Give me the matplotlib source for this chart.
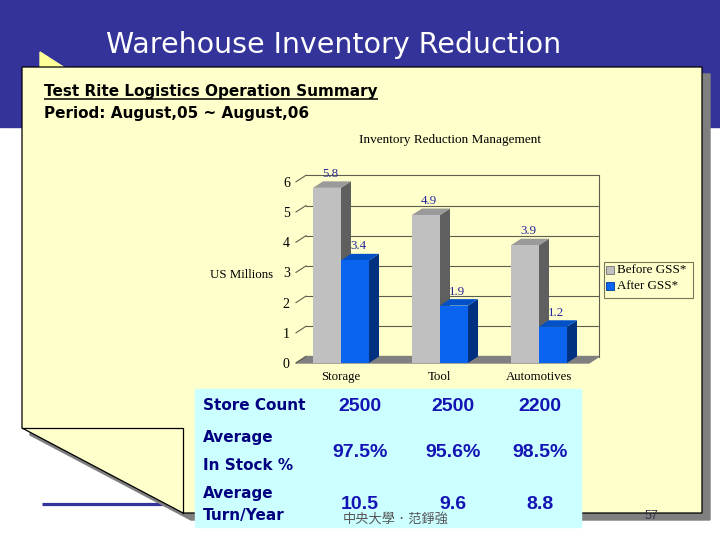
import matplotlib
matplotlib.use('Agg')
import matplotlib.pyplot as plt
from matplotlib.patches import Polygon, Rectangle

# ---------------- data ----------------
categories = ['Storage', 'Tool', 'Automotives']
before_gss = [5.8, 4.9, 3.9]
after_gss = [3.4, 1.9, 1.2]
y_ticks = [0, 1, 2, 3, 4, 5, 6]
series_names = ['Before GSS*', 'After GSS*']
row_labels = [['Store Count'], ['Average', 'In Stock %'], ['Average', 'Turn/Year']]
store_count = ['2500', '2500', '2200']
in_stock = ['97.5%', '95.6%', '98.5%']
turn_year = ['10.5', '9.6', '8.8']

SANS = 'DejaVu Sans'
ARIAL = 'Liberation Sans'
SERIF = 'Liberation Serif'
CJK = ['Noto Sans CJK TC', 'DejaVu Sans']
BLUE_BAND = '#333399'
PANEL = '#FFFFCC'

fig = plt.figure(figsize=(7.2, 5.4), dpi=100)
bg = fig.add_axes([0, 0, 1, 1])
bg.set_xlim(0, 720)
bg.set_ylim(540, 0)
bg.axis('off')

# slide background
bg.add_patch(Rectangle((0, 0), 720, 127, color=BLUE_BAND, zorder=0))
bg.text(106, 53, 'Warehouse Inventory Reduction', color='white', family=SANS,
        fontsize=20.5, va='baseline', ha='left', zorder=1)
bg.add_patch(Polygon([(40, 52), (40, 88), (68, 70)], closed=True, color='#FFFF99', zorder=1))
bg.plot([42, 190], [504, 504], color=BLUE_BAND, lw=2.3, solid_capstyle='butt', zorder=1)

# note panel with folded corner
panel = [(22, 67), (702, 67), (702, 513), (183, 513), (22, 428)]
shadow = [(x + 8, y + 7) for x, y in panel]
bg.add_patch(Polygon(shadow, closed=True, color='#7F7F7F', zorder=2))
bg.add_patch(Polygon(panel, closed=True, facecolor=PANEL, edgecolor='black', lw=0.9, zorder=3))
bg.plot([22, 183, 183], [428, 428, 513], color='black', lw=0.9, zorder=4)

t1 = bg.text(44, 96, 'Test Rite Logistics Operation Summary', family=SANS, weight='bold',
             fontsize=11, va='baseline', ha='left', zorder=5)
bg.text(44, 118, 'Period: August,05 ~ August,06', family=SANS, weight='bold',
        fontsize=11, va='baseline', ha='left', zorder=5)

# chart title / axis title
bg.text(450, 140, 'Inventory Reduction Management', family=SERIF, fontsize=9.5,
        ha='center', va='center', zorder=5)
bg.text(242, 275, 'US Millions', family=SERIF, fontsize=9.3, ha='center', va='center', zorder=5)

# legend
bg.add_patch(Rectangle((604, 262), 89, 36, facecolor='none', edgecolor='#77775A', lw=0.8, zorder=5))
leg_cols = [('#C0C0C0', '#707070'), ('#0A64F0', '#003399')]
for k, (name, (fc, ec)) in enumerate(zip(series_names, leg_cols)):
    yc = 270 + 16 * k
    bg.add_patch(Rectangle((606, yc - 4), 8, 8, facecolor=fc, edgecolor=ec, lw=0.6, zorder=6))
    bg.text(617, yc, name, family=SERIF, fontsize=9.4, ha='left', va='center', zorder=6)

# ---------------- 3D-like bar chart ----------------
ax = fig.add_axes([296 / 720, 1 - 363 / 540, 303 / 720, 198 / 540])
ax.patch.set_alpha(0)
x_left = (296 - 341) / 99.0
x_right = (599 - 341) / 99.0
ax.set_xlim(x_left, x_right)
ax.set_ylim(0, (363 - 165) / 30.2)
for s in ax.spines.values():
    s.set_visible(False)

ddx = 10 / 99.0
ddy = 6.5 / 30.2
bw = 28 / 99.0
grid_c = '#5E5E4E'

# floor
ax.add_patch(Polygon([(x_left, 0), (x_right - ddx, 0), (x_right, ddy), (x_left + ddx, ddy)],
                     closed=True, color='#808080', zorder=1, clip_on=False))
# walls / gridlines
for t in y_ticks:
    ax.plot([x_left, x_left + ddx], [t, t + ddy], color=grid_c, lw=0.8, zorder=1, clip_on=False)
    if t > 0:
        ax.plot([x_left + ddx, x_right], [t + ddy, t + ddy], color=grid_c, lw=0.8, zorder=1, clip_on=False)
ax.plot([x_right, x_right], [ddy, max(y_ticks) + ddy], color=grid_c, lw=0.8, zorder=1, clip_on=False)

styles = [dict(front='#C0C0C0', side='#5F5F5F', top='#9A9A9A'),
          dict(front='#0A64F0', side='#003080', top='#0050C8')]
z = 2
for i in range(len(categories)):
    for k, vals in enumerate([before_gss, after_gss]):
        v = vals[i]
        x0 = i - bw if k == 0 else i
        x1 = x0 + bw
        st = styles[k]
        ax.add_patch(Polygon([(x1, 0), (x1 + ddx, ddy), (x1 + ddx, v + ddy), (x1, v)], closed=True,
                             facecolor=st['side'], edgecolor='none', zorder=z, clip_on=False))
        ax.add_patch(Polygon([(x0, v), (x1, v), (x1 + ddx, v + ddy), (x0 + ddx, v + ddy)], closed=True,
                             facecolor=st['top'], edgecolor='none', zorder=z, clip_on=False))
        ax.bar(x0, v, width=bw, align='edge', color=st['front'], edgecolor='none', zorder=z + 0.5)
        ax.text(x0 + bw / 2 + ddx * 0.3, v + ddy + 0.05, f'{v:.1f}', family=SERIF, fontsize=9.3,
                color='#26269A', ha='center', va='bottom', zorder=z + 1)
        z += 1

ax.set_yticks(y_ticks)
ax.set_yticklabels([str(t) for t in y_ticks], family=SERIF, fontsize=10)
ax.set_xticks(range(len(categories)))
ax.set_xticklabels(categories, family=SERIF, fontsize=9.3)
ax.tick_params(axis='y', length=0, pad=4.5)
ax.tick_params(axis='x', length=0, pad=6)

# ---------------- table ----------------
bg.add_patch(Rectangle((195, 389), 386, 138, color='#CCFFFF', zorder=7))
label_baselines = [[410], [442, 470], [498, 520]]
for lines, bls in zip(row_labels, label_baselines):
    for txt, yb in zip(lines, bls):
        bg.text(203, yb, txt, family=SANS, weight='bold', fontsize=11, color='#000080',
                ha='left', va='baseline', zorder=8)
value_x = [360, 453, 540]
value_baselines = [411, 457, 509]
for row, yb in zip([store_count, in_stock, turn_year], value_baselines):
    for xv, txt in zip(value_x, row):
        bg.text(xv, yb, txt, family=ARIAL, weight='bold', fontsize=14, color='#1414B4',
                ha='center', va='baseline', zorder=8)

# footer
bg.text(396, 519, '中央大學．范錚強', family=CJK, fontsize=9.5, color='#555555',
        ha='center', va='center', zorder=9)
bg.text(651, 516, '57', family=ARIAL, fontsize=9, color='#33334D', ha='center', va='center', zorder=9)

# underline for summary heading
fig.canvas.draw()
bb = t1.get_window_extent(renderer=fig.canvas.get_renderer())
inv = bg.transData.inverted()
(xa, _), (xb, _) = inv.transform([(bb.x0, bb.y0), (bb.x1, bb.y0)])
bg.plot([xa, xb], [98.5, 98.5], color='black', lw=1.1, zorder=5, solid_capstyle='butt')

fig.savefig('out.png', dpi=100)
